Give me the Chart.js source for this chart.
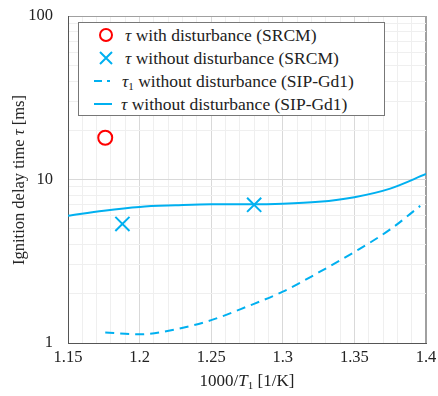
<!DOCTYPE html>
<html>
<head>
<meta charset="utf-8">
<script src="https://cdn.jsdelivr.net/npm/chart.js@4.4.1/dist/chart.umd.min.js"></script>
<style>
  body { margin: 0; background: #fff; font-family: "Times New Roman", "Liberation Serif", "DejaVu Serif", serif; color: #222; }
  #wrap { position: relative; width: 438px; height: 396px; }
  #legend { position: absolute; left: 78px; top: 22px; width: 307px; height: 94px; border: 1px solid #777; background: #fff; box-sizing: border-box; font-size: 17.5px; }
  .row { position: absolute; left: 0; height: 22px; line-height: 22px; white-space: nowrap; }
  .row svg { position: absolute; left: 12px; top: 3px; }
  .row span { position: absolute; left: 46px; }
  .title { position: absolute; font-size: 17px; white-space: nowrap; }
  #ytitle { left: 19px; top: 180px; transform: translate(-50%, -50%) rotate(-90deg); font-size: 16.5px; }
  #xtitle { left: 247px; top: 381px; transform: translate(-50%, -50%); }
  sub { font-size: 11px; vertical-align: -3px; line-height: 0; }
</style>
</head>
<body>
<div id="wrap">
  <canvas id="chart" width="438" height="396"></canvas>
  <div id="legend">
    <div class="row" style="top:1px"><svg width="30" height="16"><circle cx="15" cy="8" r="6" fill="none" stroke="#ff0000" stroke-width="2"/></svg><span><i>τ</i> with disturbance (SRCM)</span></div>
    <div class="row" style="top:24px"><svg width="30" height="16"><path d="M9 2 L21 14 M21 2 L9 14" stroke="#00b0f0" stroke-width="2"/></svg><span><i>τ</i> without disturbance (SRCM)</span></div>
    <div class="row" style="top:47px"><svg width="30" height="16"><path d="M3 8 L11 8 M16 8 L19 8" stroke="#00b0f0" stroke-width="2"/></svg><span style="left:43px"><i>τ</i><sub>1</sub> without disturbance (SIP-Gd1)</span></div>
    <div class="row" style="top:70px"><svg width="30" height="16"><path d="M3 8 L21 8" stroke="#00b0f0" stroke-width="2"/></svg><span style="left:42px"><i>τ</i> without disturbance (SIP-Gd1)</span></div>
  </div>
  <div class="title" id="ytitle">Ignition delay time <i>τ</i> [ms]</div>
  <div class="title" id="xtitle">1000/<i>T</i><sub>1</sub> [1/K]</div>
</div>
<script>
// SRCM points
const srcmDistX = [1.176];
const srcmDistY = [18];
const srcmNoDistX = [1.188, 1.28];
const srcmNoDistY = [5.35, 7.0];

// SIP-Gd1 curves
const tauX = [1.15, 1.175, 1.2, 1.225, 1.25, 1.275, 1.3, 1.325, 1.35, 1.375, 1.4];
const tauY = [6.0, 6.45, 6.8, 6.95, 7.05, 7.05, 7.1, 7.3, 7.8, 8.8, 10.8];
const tau1X = [1.176, 1.2, 1.225, 1.25, 1.275, 1.3, 1.325, 1.35, 1.375, 1.396];
const tau1Y = [1.16, 1.13, 1.21, 1.38, 1.67, 2.06, 2.7, 3.6, 4.95, 6.9];

// axis ticks
const xTickLabels = ['1.15', '1.2', '1.25', '1.3', '1.35', '1.4'];
const yTickLabels = ['1', '10', '100'];

const xGrid = [];
for (let i = 115; i <= 140; i++) xGrid.push(i / 100);
const yGrid = [];
[1, 10].forEach(d => { for (let m = 1; m <= 9; m++) yGrid.push(m * d); });
yGrid.push(100);

const toPts = (xs, ys) => xs.map((x, i) => ({x: x, y: ys[i]}));
const near = (a, b) => Math.abs(a - b) < 1e-9;
const tickFont = {family: '"Times New Roman", "Liberation Serif", "DejaVu Serif", serif', size: 16.5};
const blue = '#00b0f0';

new Chart(document.getElementById('chart'), {
    type: 'scatter',
    data: {
        datasets: [
            {
                label: 'τ with disturbance (SRCM)',
                data: toPts(srcmDistX, srcmDistY),
                pointStyle: 'circle',
                pointRadius: 7,
                borderColor: '#ff0000',
                borderWidth: 2,
                backgroundColor: 'rgba(0,0,0,0)'
            },
            {
                label: 'τ without disturbance (SRCM)',
                data: toPts(srcmNoDistX, srcmNoDistY),
                pointStyle: 'crossRot',
                pointRadius: 10,
                borderColor: blue,
                borderWidth: 2
            },
            {
                label: 'τ1 without disturbance (SIP-Gd1)',
                data: toPts(tau1X, tau1Y),
                showLine: true,
                pointRadius: 0,
                borderColor: blue,
                borderWidth: 2,
                borderDash: [9, 6],
                cubicInterpolationMode: 'monotone'
            },
            {
                label: 'τ without disturbance (SIP-Gd1)',
                data: toPts(tauX, tauY),
                showLine: true,
                pointRadius: 0,
                borderColor: blue,
                borderWidth: 2,
                cubicInterpolationMode: 'monotone'
            }
        ]
    },
    options: {
        responsive: false,
        animation: false,
        devicePixelRatio: 1,
        layout: {padding: {top: 16, right: 12, left: 0, bottom: 0}},
        plugins: {legend: {display: false}, tooltip: {enabled: false}},
        scales: {
            x: {
                type: 'linear',
                min: 1.15,
                max: 1.4,
                afterFit: s => { s.height = 53; s.paddingLeft = 0; s.paddingRight = 0; },
                afterBuildTicks: s => { s.ticks = xGrid.map(v => ({value: v})); },
                ticks: {
                    autoSkip: false,
                    maxRotation: 0,
                    padding: 5,
                    font: tickFont,
                    color: '#222',
                    callback: v => xTickLabels.find(l => near(parseFloat(l), v)) || ''
                },
                grid: {
                    drawTicks: false,
                    color: ctx => {
                        const v = ctx.tick.value;
                        if (near(v, 1.4)) return '#a0a0a0';
                        return xTickLabels.some(l => near(parseFloat(l), v)) ? '#d9d9d9' : '#efefef';
                    },
                    lineWidth: ctx => near(ctx.tick.value, 1.4) ? 2 : 1
                },
                border: {color: '#555', width: 1}
            },
            y: {
                type: 'logarithmic',
                min: 1,
                max: 100,
                afterFit: s => { s.width = 68; s.paddingTop = 0; s.paddingBottom = 0; },
                afterBuildTicks: s => { s.ticks = yGrid.map(v => ({value: v})); },
                ticks: {
                    autoSkip: false,
                    padding: 15,
                    font: tickFont,
                    color: '#222',
                    callback: v => yTickLabels.find(l => near(parseFloat(l), v)) || ''
                },
                grid: {
                    drawTicks: false,
                    color: ctx => {
                        const v = ctx.tick.value;
                        if (near(v, 100)) return '#a0a0a0';
                        return yTickLabels.some(l => near(parseFloat(l), v)) ? '#d9d9d9' : '#efefef';
                    }
                },
                border: {color: '#555', width: 1}
            }
        }
    }
});
</script>
</body>
</html>
